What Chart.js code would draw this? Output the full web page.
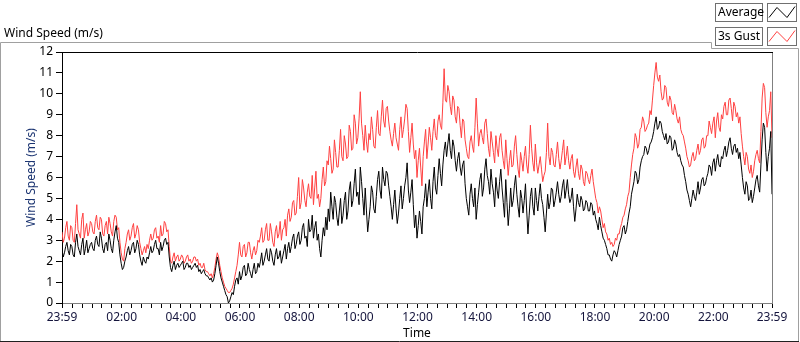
<!DOCTYPE html>
<html lang="en">
<head>
<meta charset="UTF-8">
<title>Wind Speed</title>
<script src="https://cdn.jsdelivr.net/npm/chart.js@4.4.0/dist/chart.umd.min.js"></script>
<style>
  html, body { margin: 0; padding: 0; background: #fff; }
  #wrap { position: relative; width: 800px; height: 342px; }
</style>
</head>
<body>
<div id="wrap"><canvas id="wind"></canvas></div>
<script>
// one sample every 2.5 minutes, first sample at 23:59 of the day before
const stepMin = 2.5;

// one row = one hour
const avgSpeed = [
  2.6,2.2, 2.4,2.7, 2.9,2.5, 2.3,2.8, 2.7,2.3, 2.2,2.9, 3.3,2.7, 2.5,2.3, 2.8,3.1, 2.3,2.6, 3.0,2.4, 2.6,2.8,
  2.9,2.6, 2.5,3.0, 3.2,2.8, 2.7,3.4, 3.1,2.6, 2.4,2.8, 2.9,2.5, 3.3,3.0, 2.6,2.4, 3.0,3.4, 3.7,3.1, 2.9,2.3,
  1.9,1.6, 1.7,2.0, 2.2,2.5, 2.7,2.3, 2.5,2.8, 2.9,2.4, 2.6,3.0, 2.8,2.3, 2.0,1.8, 2.2,2.0, 1.9,2.2, 2.1,2.4,
  2.7,2.4, 2.5,2.8, 3.0,2.6, 2.6,2.3, 2.9,2.5, 2.7,3.0, 3.1,2.8, 2.9,2.2, 1.7,1.5, 1.8,2.0, 1.6,1.8, 1.9,1.7,
  1.8,1.9, 2.0,1.6, 1.7,1.9, 1.9,1.7, 1.8,1.6, 1.7,1.8, 1.9,1.7, 1.8,1.5, 1.6,1.4, 1.5,1.6, 1.4,1.3, 1.3,1.2,
  1.1,1.2, 1.0,1.1, 1.4,1.8, 2.2,1.9, 1.5,1.2, 1.0,0.8, 0.6,0.4, 0.3,0.0, 0.1,0.3, 0.5,0.4, 0.8,1.1, 1.2,0.9,
  1.5,1.1, 1.3,1.7, 1.8,1.3, 1.4,1.9, 1.6,1.4, 1.2,1.6, 1.9,1.4, 1.5,1.9, 1.7,2.0, 2.4,1.8, 2.0,2.3, 2.6,2.1,
  2.0,2.6, 2.4,2.0, 1.8,2.3, 2.6,2.1, 2.2,2.5, 1.9,2.2, 2.5,2.8, 2.1,2.6, 2.9,2.4, 2.7,3.1, 3.3,2.6, 2.8,3.2,
  3.4,2.8, 3.0,3.6, 3.8,3.1, 3.2,2.7, 4.0,3.4, 3.5,4.2, 3.1,3.6, 3.9,3.0, 3.3,2.6, 2.2,3.0, 3.6,3.2, 4.1,3.5,
  4.5,3.9, 5.3,4.6, 4.0,5.1, 4.8,4.1, 3.7,4.4, 5.0,3.8, 4.2,4.9, 5.3,4.0, 4.4,5.4, 5.8,4.6, 4.9,5.7, 6.4,5.1,
  5.3,4.7, 6.5,5.8, 5.0,4.2, 5.5,4.4, 3.4,4.0, 4.6,5.6, 5.3,4.5, 4.3,5.1, 5.9,6.3, 5.4,5.0, 6.5,5.9, 5.6,6.3,
  6.2,5.6, 5.1,4.6, 4.0,4.7, 5.4,4.5, 3.8,4.3, 5.0,5.6, 4.5,5.0, 5.6,6.0, 6.7,5.4, 4.8,5.3, 5.9,4.7, 3.6,4.2,
  3.1,3.7, 4.4,3.9, 3.3,4.6, 5.0,5.7, 4.6,5.3, 5.9,5.0, 4.5,5.8, 6.5,5.5, 5.2,6.1, 6.9,6.2, 5.6,6.6, 7.3,7.7,
  7.0,7.6, 8.1,7.3, 6.9,7.8, 7.5,6.8, 6.3,6.9, 7.2,6.5, 6.1,6.6, 6.8,5.7, 5.0,4.6, 4.2,5.2, 5.7,5.0, 4.6,5.5,
  4.0,4.7, 5.3,5.9, 6.2,5.1, 5.5,6.4, 6.9,6.1, 5.8,5.2, 6.4,5.7, 5.3,4.6, 6.0,5.4, 5.0,5.8, 6.4,5.5, 4.8,4.1,
  5.9,4.8, 3.7,4.5, 5.5,4.6, 4.9,5.6, 6.1,5.2, 4.6,4.1, 5.4,5.0, 4.3,4.9, 5.7,4.4, 3.3,4.2, 5.1,5.5, 4.6,4.2,
  5.5,4.9, 4.4,5.1, 5.7,5.0, 4.7,4.1, 3.4,4.3, 5.2,4.5, 4.8,5.5, 5.4,4.6, 4.9,5.3, 5.8,5.2, 4.8,5.1, 5.6,5.9,
  5.0,5.4, 5.9,5.2, 4.8,5.0, 5.5,4.6, 3.9,4.5, 5.2,4.8, 4.6,5.1, 4.9,4.4, 4.5,4.9, 4.8,4.4, 4.4,4.8, 4.7,4.2,
  4.4,4.0, 3.8,3.5, 4.1,3.7, 3.4,3.1, 3.0,2.8, 2.6,2.3, 2.3,2.1, 2.0,2.3, 2.5,2.4, 2.2,2.5, 2.8,3.0, 3.2,3.6,
  3.7,3.3, 3.5,3.9, 4.3,4.6, 5.2,5.5, 5.8,6.3, 6.2,5.7, 5.9,6.5, 6.8,7.0, 7.1,7.5, 7.4,7.1, 7.3,7.6, 7.7,7.9,
  8.2,8.6, 8.9,8.3, 8.4,8.7, 8.6,8.2, 8.0,7.8, 8.1,7.6, 7.7,8.0, 7.9,7.3, 7.4,7.8, 7.6,7.2, 7.0,7.1, 6.8,6.6,
  6.5,6.1, 5.8,5.4, 5.2,4.9, 4.6,5.0, 5.4,5.1, 4.9,5.3, 5.8,5.2, 5.5,5.9, 6.0,5.6, 5.7,6.0, 6.2,6.6, 6.5,6.1,
  6.7,6.9, 6.3,6.8, 7.1,6.6, 6.5,7.0, 6.9,7.3, 7.5,7.0, 7.3,7.7, 7.9,7.4, 7.1,7.5, 7.6,7.2, 7.4,6.9, 7.2,6.6,
  6.0,5.5, 5.2,5.8, 5.6,4.9, 5.0,5.4, 4.8,5.1, 5.5,5.9, 6.1,5.6, 5.3,6.6, 7.8,8.6, 8.4,7.2, 6.3,7.0, 7.4,8.2,
  5.2
];

const gustSpeed = [
  3.4,2.9, 3.1,3.6, 3.9,3.2, 3.0,3.7, 3.6,3.0, 2.9,3.8, 4.7,3.5, 3.3,3.1, 4.0,4.3, 3.1,3.5, 3.8,3.2, 3.4,3.9,
  3.8,3.4, 3.3,3.9, 4.2,3.6, 3.5,4.1, 4.0,3.3, 3.2,3.7, 3.9,3.3, 4.1,3.8, 3.4,3.2, 3.9,4.2, 4.1,3.5, 3.6,2.9,
  2.4,2.1, 2.0,2.6, 2.9,3.3, 3.5,3.0, 3.2,3.6, 3.8,3.1, 3.3,3.7, 3.5,2.9, 2.6,2.3, 2.5,2.7, 2.4,2.8, 2.6,3.0,
  3.3,3.0, 3.1,3.5, 3.6,3.1, 3.2,2.9, 3.7,3.2, 3.3,3.9, 3.8,3.4, 3.5,2.7, 2.0,1.9, 2.2,2.4, 2.0,2.2, 2.3,2.0,
  2.1,2.3, 2.2,1.9, 2.0,2.2, 2.3,2.0, 2.1,1.9, 2.0,2.2, 2.2,2.0, 2.1,1.8, 1.9,1.7, 1.7,1.9, 1.6,1.5, 1.5,1.4,
  1.3,1.4, 1.2,1.4, 1.7,2.1, 2.4,2.2, 1.8,1.5, 1.2,1.0, 0.8,0.7, 0.6,0.5, 0.5,0.6, 0.7,0.9, 1.2,1.5, 1.8,2.3,
  2.9,2.3, 2.2,2.7, 2.8,2.2, 2.4,2.9, 2.9,2.4, 2.1,2.5, 2.7,2.3, 2.5,3.0, 2.9,3.2, 3.6,2.9, 3.0,3.5, 3.8,3.0,
  3.0,3.8, 3.4,2.9, 2.7,3.4, 3.7,3.1, 3.3,3.9, 3.0,3.5, 3.6,4.0, 3.2,4.2, 4.5,3.9, 4.1,4.8, 4.9,4.2, 4.3,5.1,
  6.0,4.5, 4.8,5.9, 5.5,4.9, 4.6,5.3, 5.7,5.1, 5.0,6.1, 4.7,5.5, 6.3,5.0, 5.2,4.6, 5.0,5.9, 6.5,5.6, 5.8,6.8,
  6.6,7.5, 6.9,6.2, 6.4,7.8, 7.2,6.5, 6.5,7.3, 8.3,7.0, 6.8,8.0, 7.6,6.9, 7.0,8.5, 8.2,7.3, 7.4,9.0, 8.6,7.6,
  7.9,8.8, 10.1,8.6, 8.0,7.3, 8.5,7.7, 7.2,8.1, 7.8,8.9, 8.3,7.5, 7.4,8.4, 9.2,8.1, 8.0,8.9, 9.7,8.7, 8.4,9.3,
  9.4,8.7, 8.2,7.8, 7.5,8.1, 8.6,7.9, 7.6,7.3, 8.3,8.9, 7.9,8.3, 8.8,9.5, 9.3,8.2, 7.2,7.9, 8.6,7.6, 6.9,7.3,
  6.0,6.8, 7.4,6.5, 5.6,7.0, 7.7,8.3, 6.9,7.6, 8.4,7.9, 7.3,8.2, 8.8,8.0, 7.8,8.7, 9.0,8.5, 8.3,9.6, 11.2,9.7,
  9.6,10.4, 10.1,9.4, 9.0,9.9, 9.7,8.9, 8.6,9.4, 9.3,8.5, 7.9,8.8, 8.7,7.8, 7.4,7.0, 6.9,7.7, 8.0,7.5, 7.2,8.4,
  9.8,8.6, 7.5,8.1, 8.3,7.9, 7.6,8.6, 8.8,8.1, 7.4,7.0, 8.2,7.7, 7.2,6.7, 8.0,7.4, 7.0,7.9, 8.1,7.3, 6.8,6.4,
  7.8,6.9, 6.1,6.8, 7.3,6.5, 6.6,7.5, 8.0,7.1, 6.4,6.0, 7.2,6.8, 6.3,7.0, 7.5,6.6, 6.2,7.1, 8.5,7.4, 6.7,6.3,
  7.6,6.7, 6.2,6.6, 7.0,6.4, 5.8,6.1, 6.3,7.2, 8.6,7.0, 6.6,7.4, 7.2,6.6, 6.5,7.1, 7.7,6.9, 6.4,6.8, 7.3,7.8,
  6.6,7.0, 7.5,6.8, 6.4,6.9, 7.1,6.3, 6.0,6.5, 6.9,6.2, 5.9,6.6, 6.4,5.8, 5.6,6.3, 6.2,5.9, 5.7,6.1, 6.4,5.8,
  5.4,5.0, 4.8,4.3, 4.6,4.4, 4.0,3.6, 3.8,3.4, 3.3,3.0, 3.1,2.8, 2.9,2.7, 2.8,3.1, 3.0,3.3, 3.3,3.6, 3.8,4.1,
  4.2,4.5, 4.7,5.1, 5.3,6.0, 6.6,7.1, 7.4,8.1, 7.9,7.4, 7.6,8.3, 8.4,8.9, 8.7,8.2, 8.3,8.5, 8.6,9.2, 9.0,9.7,
  10.4,11.0, 11.5,10.8, 10.6,10.9, 10.1,9.7, 9.8,10.4, 10.3,9.6, 9.4,9.9, 9.7,9.1, 9.0,9.5, 9.2,8.8, 8.6,8.9, 8.3,8.1,
  8.0,7.7, 7.4,7.0, 6.8,6.5, 6.6,7.0, 7.2,6.8, 6.9,7.3, 7.6,7.1, 7.3,7.8, 7.9,7.4, 7.5,8.0, 8.0,8.7, 8.4,8.1,
  8.6,8.9, 7.9,8.7, 9.1,8.4, 8.2,9.0, 8.8,9.4, 9.6,9.0, 9.0,9.7, 9.8,9.3, 8.7,9.6, 9.4,8.9, 9.1,8.6, 8.9,8.1,
  7.5,7.0, 6.6,7.2, 7.0,6.4, 6.2,6.6, 6.0,6.3, 6.8,7.1, 7.3,6.9, 6.7,8.2, 9.8,10.5, 10.3,9.1, 8.4,8.9, 9.2,10.1,
  7.9
];

const seriesNames = ['Average', '3s Gust'];
const seriesColors = ['#000000', '#ff4040'];

// labelled time ticks (minutes after the 23:59 start)
const timeLabels = ['23:59', '02:00', '04:00', '06:00', '08:00', '10:00', '12:00',
                    '14:00', '16:00', '18:00', '20:00', '22:00', '23:59'];
const labelMinutes = [0, 121, 241, 361, 481, 601, 721, 841, 961, 1081, 1201, 1321, 1440];

Chart.defaults.font.family = '"Noto Sans", sans-serif';
Chart.defaults.font.size = 12;
Chart.defaults.color = '#000';

function toPoints(arr) {
  return arr.map((v, i) => ({ x: i * stepMin, y: v }));
}

// panel frame, title and the legend boxes
const panelPlugin = {
  id: 'panel',
  afterDraw(chart) {
    const ctx = chart.ctx;
    const a = chart.chartArea;
    ctx.save();
    ctx.lineWidth = 1;

    // outer frame
    ctx.strokeStyle = '#a0a0a0';
    ctx.beginPath();
    ctx.moveTo(0.5, 341);
    ctx.lineTo(0.5, 42.5);
    ctx.lineTo(711.5, 42.5);
    ctx.lineTo(711.5, 48.5);
    ctx.lineTo(798.5, 48.5);
    ctx.lineTo(798.5, 341);
    ctx.stroke();
    ctx.strokeStyle = '#202020';
    ctx.beginPath();
    ctx.moveTo(0, 341.5);
    ctx.lineTo(799, 341.5);
    ctx.stroke();

    // plot box top (black) and right (grey)
    ctx.strokeStyle = '#000';
    ctx.beginPath();
    ctx.moveTo(a.left, a.top + 0.5);
    ctx.lineTo(a.right + 1, a.top + 0.5);
    ctx.stroke();
    ctx.strokeStyle = '#808080';
    ctx.beginPath();
    ctx.moveTo(a.right + 0.5, a.top + 1);
    ctx.lineTo(a.right + 0.5, a.bottom);
    ctx.stroke();

    // title
    ctx.fillStyle = '#000';
    ctx.font = '12px "Noto Sans", sans-serif';
    ctx.textBaseline = 'alphabetic';
    ctx.textAlign = 'left';
    ctx.fillText('Wind Speed (m/s)', 4, 37);

    // legend
    seriesNames.forEach((name, i) => {
      const y0 = 3.5 + i * 24;
      ctx.strokeStyle = '#707070';
      ctx.strokeRect(715.5, y0, 47, 18);
      ctx.strokeRect(767.5, y0, 29, 18);
      ctx.fillStyle = '#000';
      ctx.textBaseline = 'middle';
      ctx.fillText(name, 718, y0 + 9.5);
      ctx.strokeStyle = seriesColors[i];
      ctx.beginPath();
      ctx.moveTo(769, y0 + 14);
      ctx.lineTo(777, y0 + 4);
      ctx.lineTo(787, y0 + 14);
      ctx.lineTo(795, y0 + 3);
      ctx.stroke();
    });
    ctx.restore();
  }
};

new Chart(document.getElementById('wind'), {
  type: 'line',
  data: {
    datasets: [
      {
        label: seriesNames[0],
        data: toPoints(avgSpeed),
        borderColor: seriesColors[0],
        borderWidth: 1,
        pointRadius: 0,
        tension: 0
      },
      {
        label: seriesNames[1],
        data: toPoints(gustSpeed),
        borderColor: seriesColors[1],
        borderWidth: 1,
        pointRadius: 0,
        tension: 0
      }
    ]
  },
  options: {
    responsive: true,
    maintainAspectRatio: false,
    animation: false,
    layout: { padding: { left: 0, right: 28, top: 52, bottom: 0 } },
    plugins: {
      legend: { display: false },
      tooltip: { enabled: false }
    },
    scales: {
      x: {
        type: 'linear',
        min: 0,
        max: 1440,
        afterBuildTicks(scale) {
          const t = [{ value: 0 }];
          for (let m = 21; m < 1440; m += 20) t.push({ value: m });
          t.push({ value: 1440 });
          scale.ticks = t;
        },
        afterFit(scale) { scale.height = 39; },
        ticks: {
          autoSkip: false,
          maxRotation: 0,
          padding: 2,
          color: '#14143c',
          callback(value) {
            const k = labelMinutes.indexOf(value);
            return k >= 0 ? timeLabels[k] : '';
          }
        },
        grid: { drawOnChartArea: false, tickLength: 5, tickColor: '#000' },
        border: { color: '#808080' },
        title: { display: true, text: 'Time', color: '#000', padding: { top: 0, bottom: 1 } }
      },
      y: {
        min: 0,
        max: 12,
        afterFit(scale) { scale.width = 62; },
        ticks: { stepSize: 1, padding: 3, color: '#000' },
        grid: { drawOnChartArea: false, tickLength: 6, tickColor: '#000' },
        border: { color: '#000' },
        title: { display: true, text: 'Wind Speed (m/s)', color: '#1c3572', padding: { top: 24, bottom: 0 } }
      }
    }
  },
  plugins: [panelPlugin]
});
</script>
</body>
</html>
